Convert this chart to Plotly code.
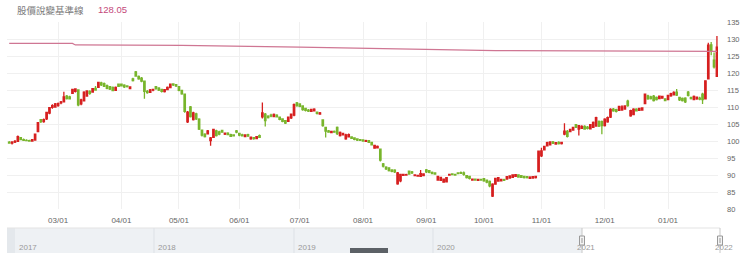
import plotly.graph_objects as go
import pandas as pd

# ---------------- data ----------------
holidays = ['2021-02-08', '2021-02-09', '2021-02-10', '2021-02-11', '2021-02-12',
            '2021-02-15', '2021-02-16', '2021-03-01', '2021-04-02', '2021-04-05',
            '2021-06-14', '2021-09-20', '2021-09-21', '2021-10-11', '2021-12-31']
dates = [d.strftime('%Y-%m-%d') for d in pd.bdate_range('2021-01-26', '2022-01-26')
         if d.strftime('%Y-%m-%d') not in holidays]

opens = [
    99.6, 99.4, 99.7, 99.9, 101.0, 100.4, 100.2, 100.1, 100.0, 100.3, 102.8, 106.3, 105.7, 106.5, 108.2, 109.9, 110.0,
    110.4, 111.2, 111.5, 113.2, 113.0, 114.0, 114.6, 115.0, 110.9, 111.8, 113.2, 114.6, 114.4, 115.5, 115.8, 117.1, 116.9, 116.3, 116.0, 115.8, 114.9, 116.7,
    116.7, 116.4, 116.2, 115.4, 118.3, 120.3, 119.0, 118.5, 117.6, 114.6, 114.3, 115.0, 116.0, 115.6, 115.2, 114.5, 115.1, 115.7, 116.8, 116.6,
    116.0, 114.9, 113.8, 105.6, 110.0, 106.3, 108.0, 106.4, 103.2, 102.0, 102.1, 100.1, 101.1, 103.0, 102.7, 103.1, 102.0, 102.3, 101.9, 101.8, 103.0,
    102.2, 101.8, 101.3, 101.9, 100.6, 101.0, 100.7, 101.6, 107.1, 107.9, 107.3, 107.6, 107.2, 107.6, 107.0, 106.5, 106.0, 105.8, 106.8, 107.6, 111.2,
    110.9, 110.3, 109.6, 109.1, 108.7, 108.9, 108.5, 107.9, 106.2, 104.0, 103.0, 102.5, 102.8, 104.0, 101.6, 101.8, 100.6, 101.2, 101.2, 100.9, 100.6, 100.4,
    100.3, 99.9, 100.1, 99.6, 97.9, 98.0, 97.6, 93.3, 92.3, 92.1, 91.5, 91.4, 87.4, 88.3, 89.9, 90.0, 91.1, 90.9, 89.8, 89.7, 89.6, 89.8,
    91.5, 91.3, 90.8, 90.6, 88.5, 88.4, 87.9, 88.0, 90.0, 90.3, 90.2, 90.6, 90.7, 90.6, 89.8, 89.6, 88.5, 88.8, 88.4, 88.7,
    88.9, 88.5, 88.1, 83.8, 87.3, 88.2, 88.3, 88.6, 88.8, 89.1, 89.3, 89.6, 90.0, 89.8, 89.6, 89.5, 89.0, 89.1, 89.2, 91.0,
    95.6, 97.4, 98.6, 98.9, 99.7, 99.1, 99.6, 99.2, 102.0, 102.8, 102.8, 103.2, 104.8, 103.5, 103.7, 104.3, 104.1, 103.6, 104.0, 104.4, 105.8, 105.7,
    104.5, 105.6, 107.0, 109.4, 109.2, 109.0, 109.1, 109.4, 111.7, 107.4, 107.8, 109.4, 109.0, 109.1, 111.0, 113.3, 113.0, 113.2, 112.8, 112.5, 112.6, 112.4,
    112.2, 113.3, 113.6, 114.4, 112.8, 112.5, 112.6, 114.4, 112.8, 112.2, 112.4, 112.6, 113.8, 112.4, 118.3, 128.3, 123.8, 119.0,
]
highs = [
    100.0, 99.9, 100.3, 101.6, 101.2, 100.7, 100.5, 100.4, 100.6, 102.2, 105.6, 106.5, 106.6, 108.6, 110.0, 110.8, 111.2,
    111.3, 111.8, 114.5, 113.5, 113.3, 115.4, 115.5, 115.2, 112.4, 114.6, 114.9, 114.9, 115.6, 116.2, 117.4, 117.4, 117.2, 116.6, 116.2, 116.0, 116.0, 116.9,
    116.9, 116.7, 116.4, 116.1, 118.6, 120.6, 119.3, 118.8, 117.8, 115.0, 115.3, 115.4, 116.2, 115.8, 115.4, 115.3, 116.0, 116.9, 117.0, 116.8,
    116.2, 115.1, 114.0, 108.8, 110.3, 108.6, 108.3, 106.7, 103.4, 102.3, 103.2, 101.2, 103.6, 103.3, 103.0, 103.3, 102.5, 102.6, 102.1, 102.0, 103.2,
    102.4, 102.1, 102.0, 102.1, 101.3, 101.2, 101.5, 101.9, 111.3, 108.2, 107.6, 108.0, 108.1, 107.9, 107.2, 106.7, 106.2, 107.2, 108.1, 111.0, 111.5,
    111.1, 110.5, 109.8, 109.4, 109.5, 109.6, 108.7, 108.5, 106.4, 104.2, 103.2, 103.0, 103.1, 104.3, 102.8, 102.4, 102.1, 102.2, 101.4, 101.1, 100.8, 100.6,
    100.5, 100.4, 100.3, 99.8, 98.9, 98.7, 97.8, 93.5, 92.6, 92.3, 91.7, 91.7, 90.9, 90.4, 90.4, 90.4, 91.3, 91.2, 90.2, 90.1, 91.5, 90.5,
    91.8, 91.5, 91.0, 90.8, 89.8, 89.5, 89.0, 89.4, 90.4, 90.5, 90.4, 90.8, 91.0, 91.0, 90.0, 89.8, 89.0, 89.0, 88.9, 88.9,
    89.1, 88.7, 88.4, 87.6, 89.2, 89.4, 88.9, 88.9, 89.7, 89.9, 90.2, 90.3, 90.2, 90.0, 89.8, 89.7, 89.6, 89.7, 89.8, 97.2,
    98.0, 98.6, 99.8, 99.9, 100.0, 99.7, 99.9, 99.8, 105.2, 103.2, 103.6, 104.2, 105.0, 104.7, 104.6, 104.6, 104.4, 105.0, 105.7, 107.1, 106.0, 106.0,
    106.7, 107.2, 109.6, 109.7, 109.5, 110.4, 110.5, 110.5, 112.1, 109.2, 109.6, 109.6, 109.8, 109.9, 114.0, 113.6, 113.3, 113.5, 113.1, 113.4, 113.3, 112.6,
    113.6, 114.2, 114.6, 115.3, 113.0, 112.8, 112.9, 114.7, 113.0, 113.4, 113.1, 113.0, 114.2, 117.9, 128.9, 129.1, 126.0, 130.9,
]
lows = [
    99.2, 99.0, 99.4, 99.7, 100.2, 100.0, 99.9, 99.8, 99.8, 100.1, 102.6, 105.3, 105.4, 106.2, 107.9, 109.5, 109.8,
    110.1, 110.8, 111.3, 112.2, 112.2, 113.8, 114.3, 110.2, 110.5, 111.6, 113.0, 113.6, 114.2, 114.8, 115.6, 116.2, 115.9, 115.2, 115.0, 114.6, 114.7, 115.9,
    116.0, 115.6, 115.7, 115.2, 117.5, 118.9, 118.0, 117.3, 112.4, 113.9, 114.1, 114.6, 115.1, 114.7, 114.3, 114.3, 114.9, 115.5, 116.2, 115.9,
    114.6, 113.6, 108.3, 105.3, 106.9, 106.0, 106.2, 103.2, 101.3, 101.0, 101.9, 98.6, 100.9, 101.3, 101.7, 102.4, 101.8, 101.7, 101.2, 101.3, 102.3,
    101.4, 101.3, 101.1, 101.2, 100.4, 100.4, 100.5, 100.9, 106.6, 104.3, 106.6, 107.0, 107.0, 106.9, 106.1, 105.5, 105.0, 105.6, 106.5, 107.3, 110.1,
    109.9, 108.9, 108.7, 108.5, 108.5, 108.7, 107.8, 107.7, 104.2, 101.0, 102.4, 102.3, 102.4, 101.8, 101.3, 101.6, 100.4, 101.0, 100.6, 100.2, 100.0, 100.0,
    99.8, 99.7, 99.4, 98.7, 97.7, 97.8, 94.0, 92.2, 91.5, 91.0, 90.8, 90.6, 87.1, 87.9, 89.7, 89.8, 90.1, 90.3, 89.6, 89.5, 89.4, 89.6,
    90.6, 90.5, 90.2, 90.1, 88.3, 88.2, 87.7, 87.8, 89.8, 89.9, 89.8, 90.2, 90.3, 89.8, 89.0, 88.7, 88.3, 88.3, 88.2, 88.3,
    88.0, 87.6, 86.4, 83.5, 87.1, 88.0, 88.1, 88.2, 88.6, 88.9, 89.1, 89.4, 89.2, 89.1, 89.0, 89.0, 88.8, 88.9, 89.0, 90.8,
    95.3, 97.2, 98.4, 98.7, 99.1, 98.9, 99.0, 99.0, 101.7, 101.0, 102.6, 103.0, 103.8, 101.6, 103.5, 103.3, 103.4, 103.4, 103.8, 104.2, 104.1, 102.0,
    104.3, 105.4, 106.8, 108.6, 108.4, 108.8, 108.9, 109.2, 110.1, 107.1, 107.6, 108.7, 108.8, 108.9, 110.8, 112.1, 112.2, 111.6, 111.9, 112.3, 112.4, 111.7,
    112.0, 113.0, 113.4, 113.2, 111.8, 111.6, 111.2, 113.1, 112.2, 112.0, 112.1, 112.0, 110.9, 112.2, 118.1, 125.2, 121.3, 118.8,
]
closes = [
    99.4, 99.7, 99.9, 101.3, 100.4, 100.2, 100.1, 100.0, 100.4, 102.0, 105.4, 105.7, 106.3, 108.4, 109.8, 110.4, 110.9,
    111.0, 111.5, 113.0, 112.5, 112.4, 115.2, 115.3, 110.6, 112.1, 114.4, 114.7, 114.0, 115.4, 115.0, 117.2, 116.5, 116.1, 115.5, 115.3, 114.8, 115.8, 116.1,
    116.2, 115.9, 116.0, 115.9, 117.8, 119.1, 118.3, 117.6, 114.6, 114.2, 115.0, 115.2, 115.4, 115.0, 114.6, 115.1, 115.8, 116.7, 116.5, 116.2,
    114.9, 113.9, 108.7, 108.5, 107.2, 108.3, 106.5, 103.5, 101.7, 101.3, 103.0, 100.9, 103.4, 101.6, 102.0, 102.6, 102.3, 101.9, 101.4, 101.5, 102.6,
    101.7, 101.5, 101.8, 101.5, 101.1, 100.7, 101.3, 101.1, 108.3, 106.0, 106.9, 107.3, 107.8, 107.1, 106.4, 105.8, 105.3, 107.0, 107.9, 110.7, 110.4,
    110.2, 109.2, 109.0, 108.8, 109.3, 109.4, 108.1, 108.3, 104.5, 102.9, 102.6, 102.8, 102.6, 102.2, 102.5, 102.2, 101.8, 101.9, 100.8, 100.5, 100.3, 100.2,
    100.0, 100.1, 99.6, 98.9, 98.7, 98.4, 94.4, 92.6, 91.8, 91.3, 91.1, 90.9, 90.6, 90.2, 90.2, 90.1, 90.3, 90.6, 90.0, 89.9, 90.4, 90.3,
    90.9, 90.8, 90.4, 90.3, 89.6, 89.3, 88.8, 89.2, 90.2, 90.1, 90.0, 90.4, 90.5, 90.2, 89.2, 89.0, 88.8, 88.5, 88.7, 88.5,
    88.3, 87.9, 86.8, 87.3, 89.0, 89.2, 88.7, 88.4, 89.5, 89.7, 90.0, 90.1, 89.4, 89.3, 89.2, 89.2, 89.4, 89.5, 89.6, 97.0,
    97.1, 98.4, 99.5, 99.7, 99.3, 99.5, 99.2, 99.6, 102.9, 101.4, 103.4, 104.0, 104.0, 104.5, 104.3, 103.5, 103.7, 104.8, 105.5, 106.9, 104.4, 104.5,
    106.4, 106.9, 109.3, 108.9, 108.7, 110.2, 110.0, 110.3, 110.4, 108.9, 109.4, 108.9, 109.6, 109.7, 113.8, 112.4, 112.5, 111.9, 112.2, 113.2, 113.1, 111.9,
    113.4, 113.9, 114.3, 113.5, 112.1, 111.9, 111.5, 113.4, 112.5, 113.1, 112.9, 112.3, 112.2, 117.7, 128.2, 126.4, 121.8, 127.6,
]

# benchmark line (股價說變基準線)
ref_dates = ['2021-01-26', '2021-03-09', '2021-03-10', '2021-05-04', '2021-07-01',
             '2021-08-16', '2021-10-07', '2022-01-26']
ref_vals = [128.7, 128.7, 128.25, 128.1, 127.6, 127.1, 126.6, 126.35]

legend_name = '股價說變基準線'
legend_value = '128.05'

tick_vals = ['2021-03-02', '2021-04-01', '2021-05-03', '2021-06-01', '2021-07-01', '2021-08-02',
             '2021-09-01', '2021-10-01', '2021-11-01', '2021-12-01', '2022-01-03']
tick_text = ['03/01', '04/01', '05/01', '06/01', '07/01', '08/01',
             '09/01', '10/01', '11/01', '12/01', '01/01']

nav_years = ['2017', '2018', '2019', '2020', '2021', '2022']

# ---------------- figure ----------------
PL, PR, PT, PB = 7, 718, 22, 209  # plot area in pixels


def px(x):
    return (x - PL) / (PR - PL)


def py(y):
    return (PB - y) / (PB - PT)


RED = '#d61f1f'
GREEN = '#78b52c'

fig = go.Figure()
fig.add_trace(go.Scatter(
    x=ref_dates, y=ref_vals, mode='lines',
    line=dict(color='#cf7693', width=1.2), hoverinfo='skip'))
fig.add_trace(go.Candlestick(
    x=dates, open=opens, high=highs, low=lows, close=closes,
    increasing=dict(line=dict(color=RED, width=1.3), fillcolor=RED),
    decreasing=dict(line=dict(color=GREEN, width=1.3), fillcolor=GREEN),
    whiskerwidth=0, hoverinfo='skip'))

shapes = []
# navigator background
shapes.append(dict(type='rect', xref='paper', yref='paper', x0=px(7), x1=px(582),
                   y0=py(228), y1=py(253), fillcolor='#eef1f4', line=dict(width=0), layer='below'))
shapes.append(dict(type='rect', xref='paper', yref='paper', x0=px(7), x1=px(15),
                   y0=py(228), y1=py(253), fillcolor='#e4e8ec', line=dict(width=0), layer='below'))
shapes.append(dict(type='line', xref='paper', yref='paper', x0=px(7), x1=px(720),
                   y0=py(228), y1=py(228), line=dict(color='#e3e3e3', width=1)))
for xs in [154, 294, 433]:
    shapes.append(dict(type='line', xref='paper', yref='paper', x0=px(xs), x1=px(xs),
                       y0=py(228), y1=py(253), line=dict(color='#dde1e6', width=1)))
for xs in [582, 720]:
    shapes.append(dict(type='line', xref='paper', yref='paper', x0=px(xs), x1=px(xs),
                       y0=py(228), y1=py(253), line=dict(color='#c8c8c8', width=1)))
    shapes.append(dict(type='rect', xref='paper', yref='paper', x0=px(xs - 2.5), x1=px(xs + 2.5),
                       y0=py(236), y1=py(245), fillcolor='#f4f4f4', line=dict(color='#999999', width=1)))
    shapes.append(dict(type='line', xref='paper', yref='paper', x0=px(xs), x1=px(xs),
                       y0=py(238), y1=py(243), line=dict(color='#999999', width=1)))
# scrollbar thumb
shapes.append(dict(type='rect', xref='paper', yref='paper', x0=px(350), x1=px(388),
                   y0=py(248), y1=py(254), fillcolor='#5c6166', line=dict(width=0)))

annotations = []
for label, xl in zip(nav_years, [17, 156, 296, 435, 575, 713]):
    annotations.append(dict(text=label, xref='paper', yref='paper', x=px(xl), y=py(247),
                            xanchor='left', yanchor='middle', showarrow=False,
                            font=dict(size=8, color='#9a9a9a')))
annotations.append(dict(text=legend_name, xref='paper', yref='paper', x=px(15), y=py(10),
                        xanchor='left', yanchor='middle', showarrow=False,
                        font=dict(size=9.5, color='#7a7a7a', family='Noto Sans CJK TC')))
annotations.append(dict(text=legend_value, xref='paper', yref='paper', x=px(96), y=py(10),
                        xanchor='left', yanchor='middle', showarrow=False,
                        font=dict(size=9.5, color='#c4487a', family='Liberation Sans')))

fig.update_layout(
    width=740, height=253,
    margin=dict(l=PL, r=740 - PR, t=PT, b=253 - PB, autoexpand=False),
    paper_bgcolor='white', plot_bgcolor='white',
    showlegend=False,
    font=dict(family='Liberation Sans, Arial, sans-serif', size=8, color='#666666'),
    shapes=shapes, annotations=annotations,
    xaxis=dict(
        type='category',
        categoryorder='array', categoryarray=dates,
        range=[-0.765, 246.37],
        rangeslider=dict(visible=False),
        tickmode='array', tickvals=tick_vals, ticktext=tick_text,
        showgrid=True, gridcolor='#f0f0f0', gridwidth=1,
        zeroline=False, showline=False, ticks='',
        tickfont=dict(size=8, color='#666666'),
        ticklabelstandoff=5,
        automargin=False,
        fixedrange=True,
    ),
    yaxis=dict(
        side='right', range=[80, 135], tick0=80, dtick=5,
        showgrid=True, gridcolor='#f0f0f0', gridwidth=1,
        zeroline=False, showline=False, ticks='',
        tickfont=dict(size=7.5, color='#666666'),
        ticklabelstandoff=8,
        automargin=False,
        fixedrange=True,
    ),
)

fig.write_html('out.html')
